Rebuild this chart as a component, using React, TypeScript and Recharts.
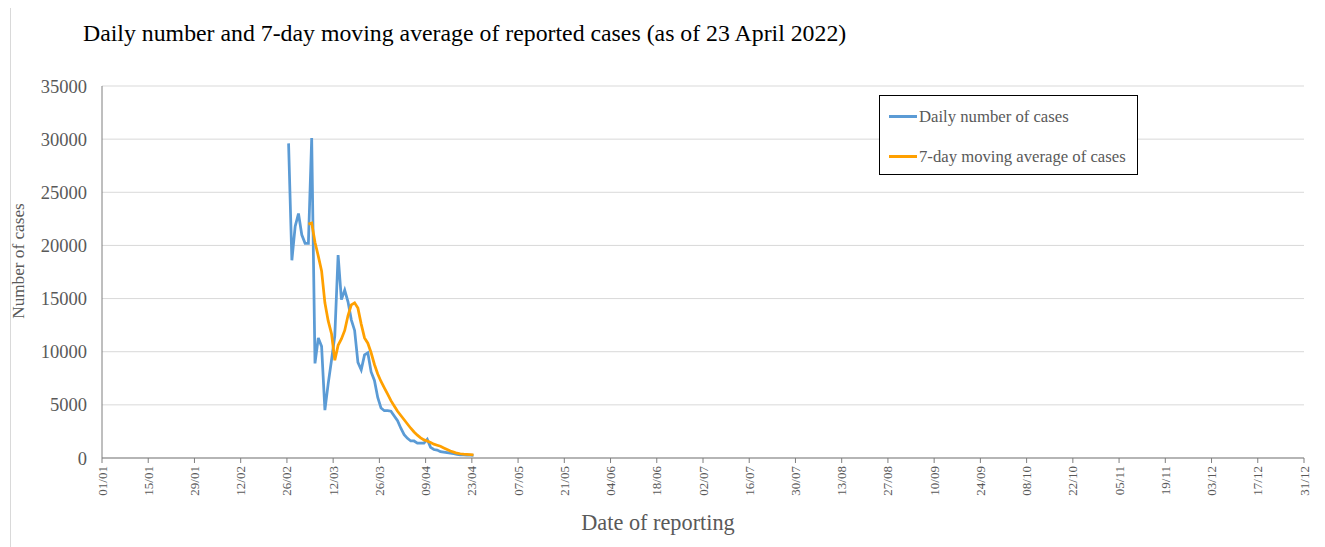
import React from 'react';
import { LineChart, Line, XAxis, YAxis, CartesianGrid, Legend } from 'recharts';

// dates of reporting (dd/mm, 2022)
const reportDates = [
  '26/02', '27/02', '28/02', '01/03', '02/03', '03/03', '04/03', '05/03', '06/03', '07/03',
  '08/03', '09/03', '10/03', '11/03', '12/03', '13/03', '14/03', '15/03', '16/03', '17/03',
  '18/03', '19/03', '20/03', '21/03', '22/03', '23/03', '24/03', '25/03', '26/03', '27/03',
  '28/03', '29/03', '30/03', '31/03', '01/04', '02/04', '03/04', '04/04', '05/04', '06/04',
  '07/04', '08/04', '09/04', '10/04', '11/04', '12/04', '13/04', '14/04', '15/04', '16/04',
  '17/04', '18/04', '19/04', '20/04', '21/04', '22/04', '23/04',
];

const dailyCases = [
  29600, 18600, 21800, 23000, 21000, 20200, 20200, 30100, 8900, 11300,
  10500, 4500, 7000, 9200, 11500, 19100, 14900, 15800, 14700, 13000,
  12000, 9000, 8300, 9700, 9900, 8100, 7300, 5700, 4700, 4450,
  4450, 4400, 3950, 3500, 2800, 2200, 1850, 1600, 1600, 1400,
  1400, 1400, 1750, 1000, 800, 750, 600, 550, 500, 450,
  400, 350, 300, 300, 280, 270, 250,
];

// 7-day moving average, first value on 04/03
const movingAverage = [
  null, null, null, null, null, null,
  22000, 22100, 20300, 19000, 17600, 14600, 12900, 11700, 9200, 10600,
  11200, 12000, 13400, 14400, 14600, 14100, 12600, 11300, 10800, 9900,
  8800, 7900, 7200, 6600, 6000, 5400, 4900, 4400, 4000, 3600,
  3200, 2800, 2450, 2150, 1900, 1700, 1600, 1450, 1300, 1200,
  1100, 950, 800, 650, 550, 450, 400, 360, 340, 320,
  300,
];

const tickLabels = [
  '01/01', '15/01', '29/01', '12/02', '26/02', '12/03', '26/03', '09/04', '23/04',
  '07/05', '21/05', '04/06', '18/06', '02/07', '16/07', '30/07', '13/08', '27/08',
  '10/09', '24/09', '08/10', '22/10', '05/11', '19/11', '03/12', '17/12', '31/12',
];

const yTicks = [0, 5000, 10000, 15000, 20000, 25000, 30000, 35000];

const dayOfYear = (s: string) => {
  const [dd, mm] = s.split('/').map(Number);
  return Math.round((Date.UTC(2022, mm - 1, dd) - Date.UTC(2022, 0, 1)) / 86400000);
};

// points sit in the middle of their day on the date axis
const data = reportDates.map((d, i) => ({
  day: dayOfYear(d) + 0.5,
  daily: dailyCases[i],
  avg: movingAverage[i] ?? undefined,
}));

const xTicks = tickLabels.map(dayOfYear);
const labelByDay: Record<number, string> = {};
tickLabels.forEach((l) => (labelByDay[dayOfYear(l)] = l));

const BLUE = '#5b9bd5';
const ORANGE = '#ffa000';
const GREY = '#595959';
const FONT = "'Times New Roman', 'Liberation Serif', serif";

const DateTick = (props: any) => {
  const { x, y, payload } = props;
  return (
    <text
      x={0}
      y={0}
      transform={`translate(${x},${y + 1}) rotate(-90)`}
      textAnchor="end"
      dominantBaseline="central"
      fill={GREY}
      fontSize={13}
      fontFamily={FONT}
    >
      {labelByDay[payload.value]}
    </text>
  );
};

const LegendBox = () => (
  <div
    style={{
      width: 259,
      height: 80,
      border: '1px solid #000',
      boxSizing: 'border-box',
      background: '#fff',
      fontFamily: FONT,
      fontSize: 16.7,
      color: GREY,
    }}
  >
    {[
      { name: 'Daily number of cases', color: BLUE, top: 21.5 },
      { name: '7-day moving average of cases', color: ORANGE, top: 61.5 },
    ].map((e) => (
      <div key={e.name} style={{ position: 'absolute', left: 10, top: e.top - 10, height: 20, display: 'flex', alignItems: 'center' }}>
        <span style={{ display: 'inline-block', width: 28, height: 3, background: e.color, marginRight: 2 }} />
        <span>{e.name}</span>
      </div>
    ))}
  </div>
);

export default function App() {
  return (
    <div
      style={{
        position: 'relative',
        width: 1312,
        height: 560,
        marginLeft: 2,
        marginTop: -4,
        border: '1px solid #d9d9d9',
        boxSizing: 'border-box',
        background: '#fff',
        fontFamily: FONT,
      }}
    >
      <div style={{ position: 'absolute', left: 72, top: 14, fontSize: 23.8, lineHeight: '28px', color: '#000', whiteSpace: 'nowrap' }}>
        Daily number and 7-day moving average of reported cases (as of 23 April 2022)
      </div>
      <div
        style={{
          position: 'absolute',
          left: 8 - 100,
          top: 256 - 10,
          width: 200,
          height: 20,
          lineHeight: '20px',
          textAlign: 'center',
          fontSize: 17.2,
          color: GREY,
          transform: 'rotate(-90deg)',
        }}
      >
        Number of cases
      </div>
      <div
        style={{
          position: 'absolute',
          left: 647 - 150,
          top: 518 - 13,
          width: 300,
          lineHeight: '26px',
          textAlign: 'center',
          fontSize: 22.3,
          color: GREY,
        }}
      >
        Date of reporting
      </div>
      <div style={{ position: 'absolute', left: 0, top: 0 }}>
        <LineChart width={1310} height={540} data={data} margin={{ top: 81, right: 17, left: 0, bottom: 0 }}>
          <CartesianGrid horizontal vertical={false} stroke="#d9d9d9" />
          <XAxis
            dataKey="day"
            type="number"
            domain={[0, 364]}
            ticks={xTicks}
            interval={0}
            height={87}
            tick={<DateTick />}
            tickSize={5}
            tickLine={{ stroke: '#7f7f7f' }}
            axisLine={{ stroke: '#7f7f7f' }}
            allowDataOverflow
          />
          <YAxis
            width={91}
            domain={[0, 35000]}
            ticks={yTicks}
            interval={0}
            tickLine={false}
            tickSize={0}
            tickMargin={15}
            axisLine={{ stroke: '#7f7f7f' }}
            tick={{ fill: GREY, fontSize: 18.5, fontFamily: FONT }}
          />
          <Legend
            layout="vertical"
            align="center"
            verticalAlign="middle"
            content={<LegendBox />}
            wrapperStyle={{ left: 868, top: 90, width: 259, height: 80 }}
          />
          <Line
            dataKey="daily"
            name="Daily number of cases"
            stroke={BLUE}
            strokeWidth={2.75}
            dot={false}
            type="linear"
            isAnimationActive={false}
          />
          <Line
            dataKey="avg"
            name="7-day moving average of cases"
            stroke={ORANGE}
            strokeWidth={2.75}
            dot={false}
            type="linear"
            isAnimationActive={false}
          />
        </LineChart>
      </div>
    </div>
  );
}
